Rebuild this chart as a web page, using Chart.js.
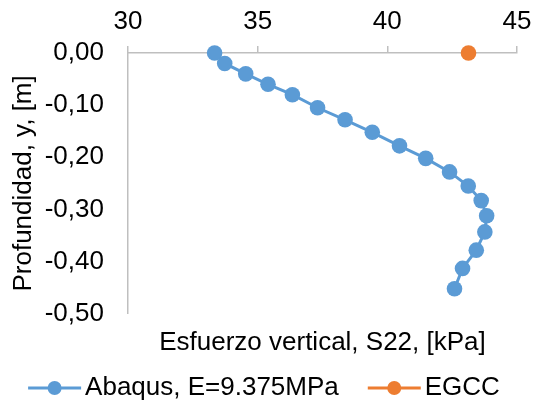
<!DOCTYPE html>
<html>
<head>
<meta charset="utf-8">
<script src="https://cdn.jsdelivr.net/npm/chart.js@4.4.1/dist/chart.umd.min.js"></script>
<style>
    html, body { margin: 0; padding: 0; background: #fff; }
    #wrap { width: 534px; height: 403px; }
</style>
</head>
<body>
<div id="wrap"><canvas id="chart"></canvas></div>
<script>
// vertical stress S22 [kPa] against depth y [m]
var abaqusStress = [33.34, 33.73, 34.54, 35.40, 36.34, 37.31, 38.37, 39.42, 40.47, 41.48, 42.40, 43.12, 43.62, 43.83, 43.76, 43.43, 42.90, 42.59];
var abaqusDepth = [0, -0.02, -0.04, -0.06, -0.08, -0.105, -0.128, -0.152, -0.178, -0.202, -0.228, -0.255, -0.283, -0.312, -0.343, -0.378, -0.413, -0.452];
var egccStress = [43.13];
var egccDepth = [0];
var xTicks = [30, 35, 40, 45];
var yTicks = [0, -0.1, -0.2, -0.3, -0.4, -0.5];

var seriesNames = ['Abaqus, E=9.375MPa', 'EGCC'];
var blue = '#5b9bd5';
var orange = '#ed7d31';
var axisGrey = '#bfbfbf';
var fontFamily = '"Liberation Sans", Arial, sans-serif';
var fontSize = 26;

function toPoints(xs, ys) {
    return xs.map(function (x, i) { return { x: x, y: ys[i] }; });
}

function commaFmt(v) {
    if (Math.abs(v) < 1e-9) v = 0;
    return v.toFixed(2).replace('.', ',');
}

// legend drawn as line + marker, like the spreadsheet one
var lineLegend = {
    id: 'lineLegend',
    afterDraw: function (chart) {
        var ctx = chart.ctx;
        var sets = chart.data.datasets;
        var lineLen = 53, gap = 4, itemGap = 29;
        ctx.save();
        ctx.font = fontSize + 'px ' + fontFamily;
        var total = 0;
        sets.forEach(function (ds, i) {
            total += lineLen + gap + ctx.measureText(ds.label).width;
            if (i > 0) total += itemGap;
        });
        var x = (chart.width - total) / 2 - 3;
        var y = chart.height - 15;
        sets.forEach(function (ds) {
            ctx.strokeStyle = ds.borderColor;
            ctx.lineWidth = 3;
            ctx.beginPath();
            ctx.moveTo(x, y);
            ctx.lineTo(x + lineLen, y);
            ctx.stroke();
            ctx.fillStyle = ds.pointBackgroundColor;
            ctx.beginPath();
            ctx.arc(x + lineLen / 2, y, 7, 0, Math.PI * 2);
            ctx.fill();
            ctx.fillStyle = '#000';
            ctx.textAlign = 'left';
            ctx.textBaseline = 'middle';
            ctx.fillText(ds.label, x + lineLen + gap, y);
            x += lineLen + gap + ctx.measureText(ds.label).width + itemGap;
        });
        ctx.restore();
    }
};

var ctx = document.getElementById('chart').getContext('2d');
new Chart(ctx, {
    type: 'scatter',
    data: {
        datasets: [{
            label: seriesNames[0],
            data: toPoints(abaqusStress, abaqusDepth),
            showLine: true,
            borderColor: blue,
            backgroundColor: blue,
            pointBackgroundColor: blue,
            pointBorderWidth: 0,
            borderWidth: 3,
            pointRadius: 7.8,
            clip: false
        }, {
            label: seriesNames[1],
            data: toPoints(egccStress, egccDepth),
            showLine: false,
            borderColor: orange,
            backgroundColor: orange,
            pointBackgroundColor: orange,
            pointBorderWidth: 0,
            pointRadius: 7.8,
            clip: false
        }]
    },
    options: {
        responsive: true,
        maintainAspectRatio: false,
        animation: false,
        layout: {
            autoPadding: false,
            padding: { left: 4, right: 17, top: 6.5, bottom: 41 }
        },
        plugins: {
            legend: { display: false },
            tooltip: { enabled: false }
        },
        scales: {
            x: {
                type: 'linear',
                position: 'top',
                min: 30,
                max: 45,
                afterBuildTicks: function (axis) {
                    axis.ticks = xTicks.map(function (v) { return { value: v }; });
                },
                // long tick slot, only the 7px next to the axis is painted
                grid: {
                    drawOnChartArea: false,
                    drawTicks: true,
                    tickLength: 15.3,
                    tickBorderDash: [0, 8.3, 7, 100],
                    color: axisGrey,
                    lineWidth: 1.5
                },
                border: { color: axisGrey, width: 1.5 },
                ticks: {
                    padding: 0,
                    color: '#000',
                    font: { family: fontFamily, size: fontSize },
                    maxRotation: 0
                }
            },
            xb: {
                type: 'linear',
                position: 'bottom',
                min: 30,
                max: 45,
                grid: { display: false, drawTicks: false },
                border: { display: false },
                ticks: { display: false },
                title: {
                    display: true,
                    text: 'Esfuerzo vertical, S22, [kPa]',
                    color: '#000',
                    font: { family: fontFamily, size: fontSize },
                    padding: { top: 13, bottom: 4 }
                }
            },
            y: {
                type: 'linear',
                min: -0.5,
                max: 0,
                afterBuildTicks: function (axis) {
                    axis.ticks = yTicks.map(function (v) { return { value: v }; });
                },
                grid: {
                    drawOnChartArea: false,
                    drawTicks: true,
                    tickLength: 24,
                    color: 'transparent'
                },
                border: { color: axisGrey, width: 1.5 },
                ticks: {
                    padding: 0,
                    color: '#000',
                    font: { family: fontFamily, size: fontSize },
                    callback: function (v) { return commaFmt(v); }
                },
                title: {
                    display: true,
                    text: 'Profundidad, y, [m]',
                    color: '#000',
                    font: { family: fontFamily, size: fontSize },
                    padding: { top: 4, bottom: 5.5 }
                }
            }
        }
    },
    plugins: [lineLegend]
});
</script>
</body>
</html>
